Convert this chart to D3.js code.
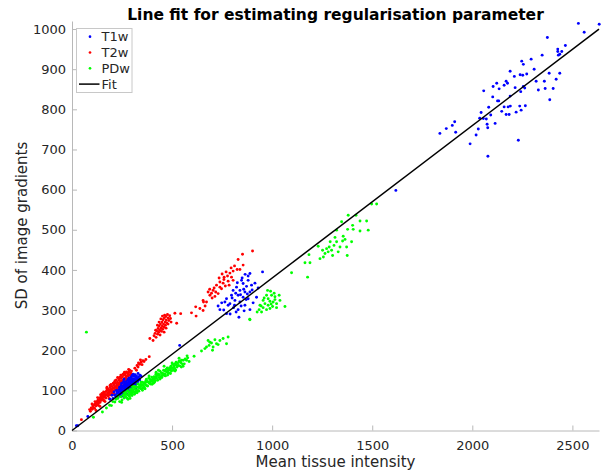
<!DOCTYPE html>
<html>
<head>
<meta charset="utf-8">
<script src="https://cdn.jsdelivr.net/npm/d3@7"></script>
<style>
  html, body { margin: 0; padding: 0; background: #ffffff; }
  svg { display: block; font-family: "DejaVu Sans", sans-serif; }
</style>
</head>
<body>
<svg id="chart" width="606" height="473"></svg>
<script>
// ---------------- data ----------------
const seriesNames = ["T1w", "T2w", "PDw"];
const xTicks = [0, 500, 1000, 1500, 2000, 2500];
const yTicks = [0, 100, 200, 300, 400, 500, 600, 700, 800, 900, 1000];
const fitLine = [[0, 0], [2633, 1000]];

const t1w = [
  [22,12],[29,12],[79,35],[190,78],[200,88],[205,80],[210,96],
  [218,86],[224,92],[228,84],[232,95],[236,90],[240,99],[242,88],[245,104],[248,94],[250,101],
  [252,108],[254,92],[256,97],[258,112],[260,104],[261,90],[263,118],[265,100],[266,108],[268,95],
  [270,114],[271,104],[272,122],[274,99],[275,110],[277,117],[278,106],[279,126],[280,112],[282,101],
  [283,120],[284,108],[286,115],[287,129],[288,104],[290,123],[291,111],[292,118],[294,133],[295,107],
  [296,126],[298,114],[299,121],[300,137],[302,110],[303,129],[305,118],[306,124],[308,135],[310,115],
  [311,128],[313,121],[315,139],[316,126],[318,132],[320,119],[322,136],[325,127],[327,131],[330,124],
  [333,134],[336,129],[340,138],[258,122],[246,112],[236,102],[226,98],[290,96],[276,90],[300,102],
  [312,110],[320,106],
  [214,88],[222,100],[232,84],[244,96],[252,86],[262,112],[270,94],[284,130],[296,100],[306,140],
  [318,114],[330,142],[338,126],[345,135],[326,120],[260,128],[248,118],[238,108],[228,90],[300,128],
  [538,212],
  [865,389],[889,391],[952,395],[847,374],[880,374],[914,367],[855,366],[822,357],[872,359],[897,362],
  [805,349],[839,349],[864,345],[889,345],[797,337],[830,337],[855,332],[880,328],[772,328],[814,324],
  [839,320],[789,316],[764,320],[739,301],[807,306],[830,301],[772,291],[889,301],[864,312],[922,332],
  [730,310],[850,380],[826,368],[858,352],[842,338],[818,342],[900,350],[876,340],[800,330],[780,312],
  [845,310],[820,295],[758,300],[905,318],[870,326],[812,312],[790,290],[834,282],[860,298],[748,318],
  [880,385],[930,355],
  [1618,598],[1838,740],[1870,752],[1900,760],[1912,769],[1917,743],[1989,714],[2078,683],[2230,723],
  [2530,1014],[2634,1012],[2559,992],[2375,979],[2465,959],[2427,950],[2427,944],[2447,944],[2430,935],
  [2437,937],[2349,935],[2247,920],[2294,925],[2255,912],[2189,895],[2309,900],[2239,886],[2252,885],
  [2272,888],[2384,890],[2437,890],[2210,882],[2122,865],[2169,870],[2176,865],[2159,860],[2419,875],
  [2360,870],[2319,870],[2057,846],[2104,857],[2134,851],[2255,857],[2214,854],[2262,853],[2242,844],
  [2330,848],[2364,852],[2404,852],[2102,831],[2189,833],[2387,824],[2126,821],[2132,821],[2237,808],
  [2190,808],[2159,806],[2082,805],[2179,806],[2265,809],[2044,792],[2147,795],[2169,787],[2184,787],
  [2219,793],[2244,798],[2037,778],[2055,777],[2070,776],[2092,786],[2074,763],[2114,765],[2030,751],
  [2077,754],[2019,736]
];

const t2w = [
  [47,27],[88,52],[92,48],[96,56],[101,53],[104,61],[108,57],[111,64],[113,55],[117,67],[119,61],
  [122,70],[124,63],[127,73],[129,66],[131,77],[133,69],[136,74],[138,81],[140,70],[142,78],[145,84],
  [147,75],[149,88],[151,80],[154,86],[156,77],[158,91],[160,83],[162,95],[164,86],[167,90],[169,81],
  [171,97],[173,88],[176,100],[178,92],[180,86],[182,103],[184,95],[187,99],[189,90],[191,107],[193,98],
  [196,103],[198,94],[200,110],[202,101],[205,106],[207,97],[209,114],[211,105],[214,109],[216,101],
  [218,118],[220,108],[223,113],[225,104],[227,121],[229,112],[232,117],[234,108],[236,125],[238,115],
  [241,120],[243,130],[245,112],[247,124],[250,118],[252,134],[254,126],[257,121],[259,138],[261,129],
  [264,124],[266,141],[268,132],[271,136],[273,127],[276,144],[279,135],[282,140],[285,146],[289,138],
  [293,143],[297,148],[262,145],[240,133],[222,126],[206,118],[190,112],[174,104],[158,96],[143,89],
  [128,82],[165,72],[185,80],[210,92],[230,99],[250,106],
  [115,72],[135,62],[150,92],[160,74],[175,108],[185,88],[195,115],[205,92],[215,124],[226,96],
  [235,130],[248,110],[255,140],[265,116],[272,146],[280,128],[288,150],[295,132],[300,140],[120,50],
  [140,60],[100,66],[182,94],[198,88],[212,120],[228,132],[244,138],[258,112],[270,120],[283,152],
  [314,155],[325,162],[332,168],[338,165],[345,170],[350,164],[354,174],[360,172],[369,177],[342,176],
  [330,158],[322,150],[386,184],
  [389,229],[405,224],[410,236],[415,242],[420,232],[423,248],[428,240],[430,254],[433,245],[436,260],
  [438,250],[440,238],[442,265],[445,255],[447,247],[449,270],[451,260],[453,252],[455,276],[457,265],
  [459,257],[461,280],[463,287],[465,270],[467,262],[469,284],[471,275],[474,268],[477,289],[480,280],
  [484,274],[488,286],[492,279],[514,292],[523,267],[418,250],[427,262],[435,270],[444,278],[452,285],
  [460,245],[470,255],[480,265],[495,270],
  [852,439],[902,447],[830,426],[855,412],[825,401],[839,401],[805,397],[789,392],[777,385],[797,382],
  [759,376],[780,372],[805,374],[739,370],[755,367],[722,362],[739,357],[705,349],[718,345],[697,342],
  [680,345],[730,341],[689,337],[714,334],[655,324],[672,320],[655,299],[618,308],[597,293],[543,291],
  [760,382],[747,353],[785,362],[639,304],[657,320],[770,395],[812,410],[766,360],[700,330],[688,352],
  [735,380],[620,285],[665,310],[710,355],[750,390],[795,405]
];

const pdw = [
  [72,245],[107,33],[152,46],[172,56],[188,63],[197,62],[204,72],[214,71],[229,80],[238,72],[230,86],
  [245,84],[250,76],[256,88],[261,81],[265,93],[268,84],[272,90],[275,81],[278,99],[281,89],[284,96],
  [287,85],[289,94],[292,102],[295,90],[297,97],[300,87],[302,103],[305,98],[307,108],[310,95],[313,103],
  [316,94],[318,109],[321,101],[324,108],[326,98],[329,116],[332,107],[334,98],[337,111],[340,105],
  [342,115],[345,104],[348,112],[351,120],[353,106],[356,112],[359,119],[361,105],[364,118],[367,114],
  [370,125],[372,112],[375,122],[378,111],[381,121],[384,131],[386,118],[389,127],[392,116],[395,126],
  [398,133],[401,122],[404,129],[407,118],[410,134],[413,129],[416,124],[419,140],[422,130],[425,137],
  [428,125],[431,141],[434,132],[437,138],[440,148],[443,133],[446,144],[449,132],[452,143],[455,140],
  [458,150],[461,137],[464,148],[467,136],[470,152],[473,146],[476,156],[479,144],[482,152],[485,143],
  [488,156],[491,150],[494,160],[497,148],[500,156],[503,165],[506,150],[509,161],[512,155],[515,166],
  [518,151],[521,163],[525,158],[528,168],[531,162],[535,173],[539,161],[543,169],[547,175],[551,166],
  [556,175],[561,166],[566,178],[572,175],[578,181],
  [330,100],[350,114],[368,121],[390,120],[405,125],[420,134],[435,139],[450,137],[465,141],[480,149],
  [495,154],[510,158],[520,170],[540,172],[360,108],[342,111],[318,98],[300,93],[285,88],[262,87],
  [220,78],[248,70],[270,96],[290,80],[310,110],[325,94],[345,120],[365,104],[385,136],[400,115],
  [420,145],[440,128],[460,160],[478,138],[500,168],[515,148],[535,180],[555,160],[575,186],[585,172],
  [312,90],[372,128],[432,150],[492,142],[546,158],[258,95],[280,78],[298,110],[352,100],[412,120],
  [610,185],
  [647,198],[672,208],[685,212],[697,218],[705,208],[722,216],[739,224],[755,229],[780,233],[680,224],
  [714,226],[730,214],[702,200],[664,204],[689,220],[772,216],
  [888,277],
  [977,349],[992,347],[972,337],[997,337],[1014,333],[1035,337],[1039,324],[980,328],[955,324],[989,322],
  [1005,320],[1022,316],[964,316],[939,312],[980,312],[1002,309],[955,306],[935,301],[972,301],[989,304],
  [925,295],[947,295],[1064,309],[889,276],[1022,306],[1014,326],[960,330],[995,315],[1010,342],[945,310],
  [1097,393],[1177,382],[1164,418],[1189,418],[1184,438],[1230,459],[1239,428],[1256,432],[1252,449],
  [1272,453],[1285,457],[1297,449],[1309,461],[1280,445],[1302,436],[1264,441],[1314,481],[1322,470],
  [1339,457],[1330,445],[1352,472],[1364,476],[1355,484],[1377,501],[1347,520],[1380,536],[1402,511],
  [1405,501],[1397,470],[1375,436],[1419,536],[1439,522],[1439,497],[1472,522],[1480,499],[1497,564],
  [1522,564],[1322,499],[1372,457],[1290,470]
];

// ---------------- chart ----------------
const colors = {T1w: "#0000ff", T2w: "#ff0000", PDw: "#00ff00"};
const seriesData = {T1w: t1w, T2w: t2w, PDw: pdw};
const drawOrder = ["T2w", "T1w", "PDw"];

const svg = d3.select("#chart");
const x = d3.scaleLinear().domain([0, 2633]).range([72, 599]);
const y = d3.scaleLinear().domain([0, 1020]).range([430.5, 21]);

const axisColor = "#b8b8b8";
const textColor = "#262626";

// x axis
const gx = svg.append("g").attr("transform", "translate(0,430.5)")
  .call(d3.axisBottom(x).tickValues(xTicks).tickFormat(d3.format("d"))
    .tickSizeInner(-5).tickSizeOuter(0).tickPadding(10));
// y axis
const gy = svg.append("g").attr("transform", "translate(72,0)")
  .call(d3.axisLeft(y).tickValues(yTicks).tickFormat(d3.format("d"))
    .tickSizeInner(-5).tickSizeOuter(0).tickPadding(6));

[gx, gy].forEach(g => {
  g.select(".domain").attr("stroke", axisColor).attr("stroke-width", 1);
  g.selectAll(".tick line").attr("stroke", axisColor);
  g.selectAll(".tick text").attr("fill", textColor)
    .style("font-family", "DejaVu Sans").style("font-size", "13px");
});

// points
drawOrder.forEach(name => {
  svg.append("g").selectAll("circle").data(seriesData[name]).join("circle")
    .attr("cx", d => x(d[0])).attr("cy", d => y(d[1]))
    .attr("r", 1.45).attr("fill", colors[name]);
});

// fit line
svg.append("path").datum(fitLine)
  .attr("d", d3.line().x(d => x(d[0])).y(d => y(d[1])))
  .attr("stroke", "#000").attr("stroke-width", 1.5).attr("fill", "none");

// title
svg.append("text").attr("x", 335.5).attr("y", 20).attr("text-anchor", "middle")
  .style("font-size", "15.5px").style("font-weight", "bold").attr("fill", "#000")
  .text("Line fit for estimating regularisation parameter");

// axis labels
svg.append("text").attr("x", 335.5).attr("y", 467).attr("text-anchor", "middle")
  .style("font-size", "15px").attr("fill", textColor).text("Mean tissue intensity");
svg.append("text").attr("transform", "translate(27,225.5) rotate(-90)").attr("text-anchor", "middle")
  .style("font-size", "15px").attr("fill", textColor).text("SD of image gradients");

// legend
const lg = svg.append("g");
lg.append("rect").attr("x", 76.5).attr("y", 28.5).attr("width", 55.5).attr("height", 64)
  .attr("fill", "#fff").attr("stroke", "#c8c8c8").attr("stroke-width", 1);
const legendItems = seriesNames.concat(["Fit"]);
legendItems.forEach((name, i) => {
  const cy = 36.7 + i * 15.8;
  if (name === "Fit") {
    lg.append("line").attr("x1", 79).attr("x2", 99.5).attr("y1", cy).attr("y2", cy)
      .attr("stroke", "#000").attr("stroke-width", 1.5);
  } else {
    lg.append("circle").attr("cx", 90).attr("cy", cy).attr("r", 1.35).attr("fill", colors[name]);
  }
  lg.append("text").attr("x", 101.5).attr("y", cy).attr("dy", "0.36em")
    .style("font-size", "13px").attr("fill", textColor).text(name);
});
</script>
</body>
</html>
